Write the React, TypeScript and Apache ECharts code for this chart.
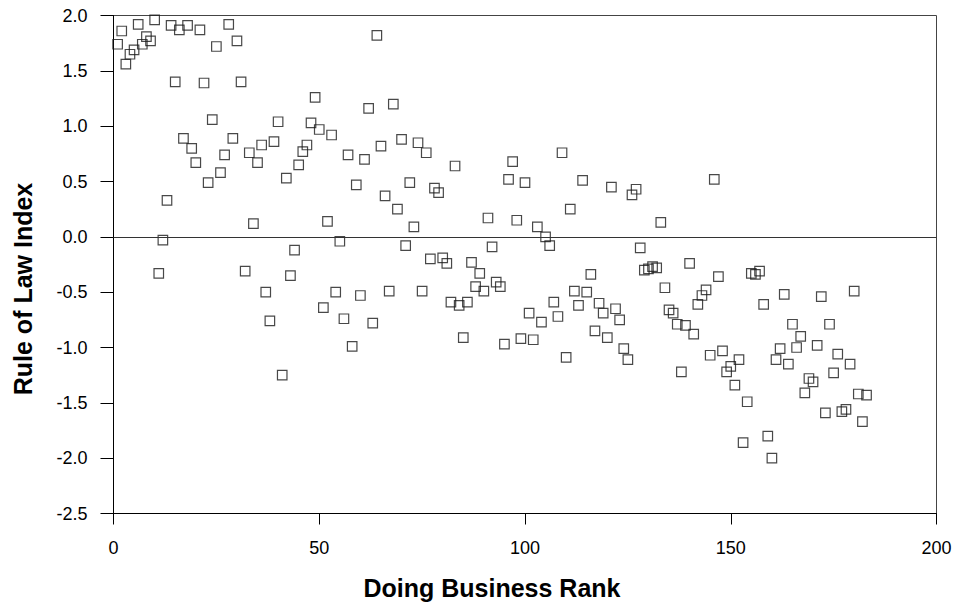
import React, { useEffect, useRef } from "react";
import * as echarts from "echarts";

const xAxisTitle = "Doing Business Rank";
const yAxisTitle = "Rule of Law Index";

// Rule of Law Index for each Doing Business rank (rank = position in list, 1..183)
const ruleOfLaw: number[] = [
  1.74, 1.86, 1.56, 1.65, 1.69, 1.92, 1.74, 1.81, 1.77, 1.96,
  -0.33, -0.03, 0.33, 1.91, 1.4, 1.87, 0.89, 1.91, 0.8, 0.67,
  1.87, 1.39, 0.49, 1.06, 1.72, 0.58, 0.74, 1.92, 0.89, 1.77,
  1.4, -0.31, 0.76, 0.12, 0.67, 0.83, -0.5, -0.76, 0.86, 1.04,
  -1.25, 0.53, -0.35, -0.12, 0.65, 0.77, 0.83, 1.03, 1.26, 0.97,
  -0.64, 0.14, 0.92, -0.5, -0.04, -0.74, 0.74, -0.99, 0.47, -0.53,
  0.7, 1.16, -0.78, 1.82, 0.82, 0.37, -0.49, 1.2, 0.25, 0.88,
  -0.08, 0.49, 0.09, 0.85, -0.49, 0.76, -0.2, 0.44, 0.4, -0.19,
  -0.24, -0.59, 0.64, -0.62, -0.91, -0.59, -0.23, -0.45, -0.33, -0.49,
  0.17, -0.09, -0.41, -0.45, -0.97, 0.52, 0.68, 0.15, -0.92, 0.49,
  -0.69, -0.93, 0.09, -0.77, 0.0, -0.08, -0.59, -0.72, 0.76, -1.09,
  0.25, -0.49, -0.62, 0.51, -0.5, -0.34, -0.85, -0.6, -0.69, -0.91,
  0.45, -0.65, -0.75, -1.01, -1.11, 0.38, 0.43, -0.1, -0.3, -0.29,
  -0.27, -0.28, 0.13, -0.46, -0.66, -0.69, -0.79, -1.22, -0.8, -0.24,
  -0.88, -0.61, -0.53, -0.48, -1.07, 0.52, -0.36, -1.03, -1.22, -1.17,
  -1.34, -1.11, -1.86, -1.49, -0.33, -0.34, -0.31, -0.61, -1.8, -2.0,
  -1.11, -1.01, -0.52, -1.15, -0.79, -1.0, -0.9, -1.41, -1.28, -1.31,
  -0.98, -0.54, -1.59, -0.79, -1.23, -1.06, -1.58, -1.56, -1.15, -0.49,
  -1.42, -1.67, -1.43,
];

const xTicks = { min: 0, max: 200, interval: 50 };
const yTicks = { min: -2.5, max: 2.0, interval: 0.5 };

const FONT = "'Liberation Sans', Arial, sans-serif";

export default function App() {
  const ref = useRef<HTMLDivElement | null>(null);

  useEffect(() => {
    if (!ref.current) return;
    const chart = echarts.init(ref.current, undefined, { renderer: "svg" });
    const points = ruleOfLaw.map((v, i) => [i + 1, v]);
    chart.setOption({
      animation: false,
      backgroundColor: "#ffffff",
      grid: {
        left: 113.5,
        right: 21.5,
        top: 15.5,
        bottom: 92.5,
        show: true,
        borderColor: "#444",
        borderWidth: 1,
        backgroundColor: "transparent",
      },
      xAxis: {
        type: "value",
        min: xTicks.min,
        max: xTicks.max,
        interval: xTicks.interval,
        splitLine: { show: false },
        axisLine: { show: true, onZero: false, lineStyle: { color: "#000", width: 1 } },
        axisTick: { show: true, inside: false, length: 11, lineStyle: { color: "#000", width: 1 } },
        axisLabel: {
          color: "#000",
          fontFamily: FONT,
          fontSize: 18,
          margin: 25,
        },
      },
      yAxis: {
        type: "value",
        min: yTicks.min,
        max: yTicks.max,
        interval: yTicks.interval,
        splitLine: { show: false },
        axisLine: { show: true, onZero: false, lineStyle: { color: "#000", width: 1 } },
        axisTick: { show: true, inside: false, length: 13, lineStyle: { color: "#000", width: 1 } },
        axisLabel: {
          color: "#000",
          fontFamily: FONT,
          fontSize: 18,
          margin: 26,
          formatter: (v: number) => v.toFixed(1),
        },
      },
      graphic: [
        {
          type: "text",
          x: 23,
          y: 289,
          rotation: Math.PI / 2,
          style: {
            text: yAxisTitle,
            fill: "#000",
            font: `bold 25px ${FONT}`,
            align: "center",
            verticalAlign: "middle",
          },
        },
        {
          type: "text",
          x: 492,
          y: 588,
          style: {
            text: xAxisTitle,
            fill: "#000",
            font: `bold 25px ${FONT}`,
            align: "center",
            verticalAlign: "middle",
          },
        },
      ],
      series: [
        {
          type: "scatter",
          data: points,
          symbol: "rect",
          symbolSize: 9.5,
          itemStyle: {
            color: "rgba(255,255,255,0)",
            borderColor: "#1a1a1a",
            borderWidth: 1.2,
          },
          emphasis: { disabled: true },
          markLine: {
            silent: true,
            symbol: "none",
            label: { show: false },
            lineStyle: { color: "#333", width: 1, type: "solid" },
            data: [{ yAxis: 0 }],
          },
        },
      ],
    });
    return () => chart.dispose();
  }, []);

  return (
    <div
      ref={ref}
      style={{ position: "fixed", left: 0, top: 0, width: 958, height: 606, background: "#fff" }}
    />
  );
}
